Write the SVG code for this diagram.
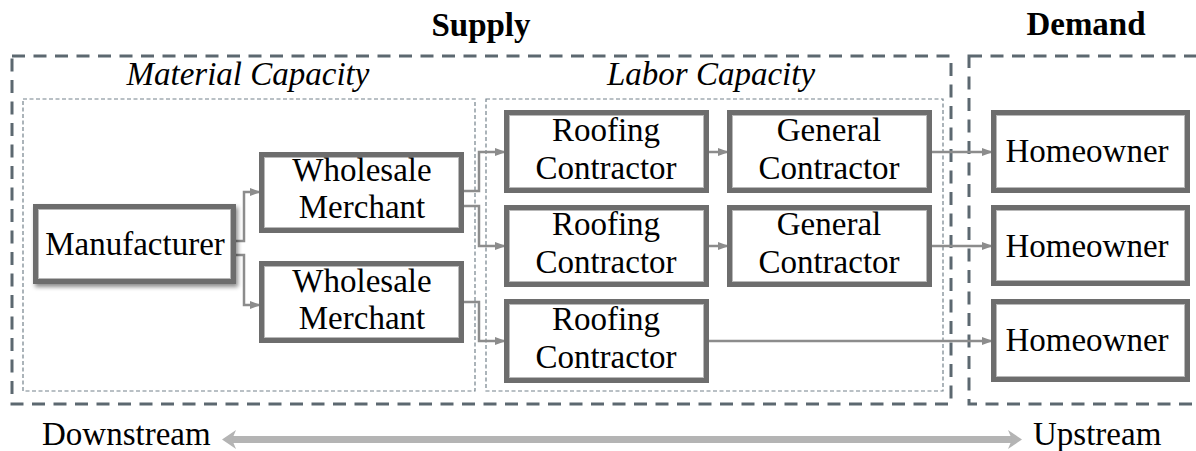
<svg xmlns="http://www.w3.org/2000/svg" width="1196" height="451" viewBox="0 0 1196 451">
  <style>
    .t { font-family: "Liberation Serif", "Times New Roman", serif; font-size: 33px; fill: #000; text-anchor: middle; }
    .title { font-weight: bold; }
    .cap { font-style: italic; }
    .side { text-anchor: start; }
    .zone { fill: none; stroke: #5c6870; stroke-width: 3; stroke-dasharray: 13 8.5; }
    .area { fill: none; stroke: #74828b; stroke-width: 1.2; stroke-dasharray: 4 2.5; }
    .box { fill: #fff; stroke: #6d6d6d; stroke-width: 5; }
    .edge { fill: none; stroke: #b9b9b9; stroke-width: 1; }
    .link { fill: none; stroke: #8c8c8c; stroke-width: 2.5; marker-end: url(#tip); }
    .flow { fill: #b4b4b4; }
  </style>
  <defs>
    <marker id="tip" markerUnits="userSpaceOnUse" markerWidth="12" markerHeight="10" refX="9" refY="5" orient="auto">
      <path d="M0 1 L11 5 L0 9 Z" fill="#8c8c8c"/>
    </marker>
    <filter id="shadow" x="-10%" y="-10%" width="130%" height="140%">
      <feDropShadow dx="2" dy="3" stdDeviation="2" flood-color="#000" flood-opacity="0.45"/>
    </filter>
  </defs>

  <!-- supply / demand zones -->
  <rect class="zone" x="12" y="56" width="939" height="348"/>
  <rect class="zone" x="969" y="56" width="260" height="348"/>
  <text class="t title" x="481" y="36">Supply</text>
  <text class="t title" x="1086" y="35">Demand</text>

  <!-- capacity areas -->
  <rect class="area" x="23" y="99" width="452" height="292"/>
  <rect class="area" x="486" y="99" width="457" height="292"/>
  <text class="t cap" x="248" y="85">Material Capacity</text>
  <text class="t cap" x="711" y="85">Labor Capacity</text>

  <!-- connectors -->
  <g id="connectors">
    <path class="link" d="M236 241 H244 V192 H259"/>
    <path class="link" d="M236 255 H244 V305 H259"/>
    <path class="link" d="M464 191 H479 V152 H504"/>
    <path class="link" d="M464 206 H479 V246 H504"/>
    <path class="link" d="M464 302 H479 V341 H504"/>
    <path class="link" d="M709 152 H727"/>
    <path class="link" d="M709 246 H727"/>
    <path class="link" d="M932 152 H991"/>
    <path class="link" d="M932 246 H991"/>
    <path class="link" d="M709 341 H991"/>
  </g>

  <!-- nodes -->
  <g id="manufacturer">
    <rect class="box" x="35.5" y="206.5" width="198" height="75" filter="url(#shadow)"/>
    <rect class="edge" x="38.5" y="209.5" width="192" height="69"/>
    <text class="t" x="135" y="255">Manufacturer</text>
  </g>
  <g id="wholesale-1">
    <rect class="box" x="261.5" y="154.5" width="200" height="76"/>
    <rect class="edge" x="264.5" y="157.5" width="194" height="70"/>
    <text class="t" x="362" y="181">Wholesale</text>
    <text class="t" x="362" y="218">Merchant</text>
  </g>
  <g id="wholesale-2">
    <rect class="box" x="261.5" y="263.5" width="200" height="77"/>
    <rect class="edge" x="264.5" y="266.5" width="194" height="71"/>
    <text class="t" x="362" y="292">Wholesale</text>
    <text class="t" x="362" y="329">Merchant</text>
  </g>
  <g id="roofing-1">
    <rect class="box" x="506.5" y="112.5" width="200" height="78"/>
    <rect class="edge" x="509.5" y="115.5" width="194" height="72"/>
    <text class="t" x="606" y="140.5">Roofing</text>
    <text class="t" x="606" y="178.5">Contractor</text>
  </g>
  <g id="general-1">
    <rect class="box" x="729.5" y="112.5" width="200" height="78"/>
    <rect class="edge" x="732.5" y="115.5" width="194" height="72"/>
    <text class="t" x="829" y="140.5">General</text>
    <text class="t" x="829" y="178.5">Contractor</text>
  </g>
  <g id="roofing-2">
    <rect class="box" x="506.5" y="207.5" width="200" height="77"/>
    <rect class="edge" x="509.5" y="210.5" width="194" height="71"/>
    <text class="t" x="606" y="235">Roofing</text>
    <text class="t" x="606" y="273">Contractor</text>
  </g>
  <g id="general-2">
    <rect class="box" x="729.5" y="207.5" width="200" height="77"/>
    <rect class="edge" x="732.5" y="210.5" width="194" height="71"/>
    <text class="t" x="829" y="235">General</text>
    <text class="t" x="829" y="273">Contractor</text>
  </g>
  <g id="roofing-3">
    <rect class="box" x="506.5" y="301.5" width="200" height="79"/>
    <rect class="edge" x="509.5" y="304.5" width="194" height="73"/>
    <text class="t" x="606" y="330">Roofing</text>
    <text class="t" x="606" y="368">Contractor</text>
  </g>
  <g id="homeowner-1">
    <rect class="box" x="993.5" y="112.5" width="194" height="78"/>
    <rect class="edge" x="996.5" y="115.5" width="188" height="72"/>
    <text class="t" x="1087" y="162">Homeowner</text>
  </g>
  <g id="homeowner-2">
    <rect class="box" x="993.5" y="207.5" width="194" height="76"/>
    <rect class="edge" x="996.5" y="210.5" width="188" height="70"/>
    <text class="t" x="1087" y="257">Homeowner</text>
  </g>
  <g id="homeowner-3">
    <rect class="box" x="993.5" y="301.5" width="194" height="78"/>
    <rect class="edge" x="996.5" y="304.5" width="188" height="72"/>
    <text class="t" x="1087" y="351">Homeowner</text>
  </g>

  <!-- downstream / upstream axis -->
  <g id="axis">
    <rect class="flow" x="231" y="436" width="782" height="7"/>
    <path class="flow" d="M222 439.5 L236 430 L232 439.5 L236 449 Z"/>
    <path class="flow" d="M1022 439.5 L1008 430 L1012 439.5 L1008 449 Z"/>
    <text class="t side" x="42" y="445">Downstream</text>
    <text class="t side" x="1033" y="445">Upstream</text>
  </g>
</svg>
